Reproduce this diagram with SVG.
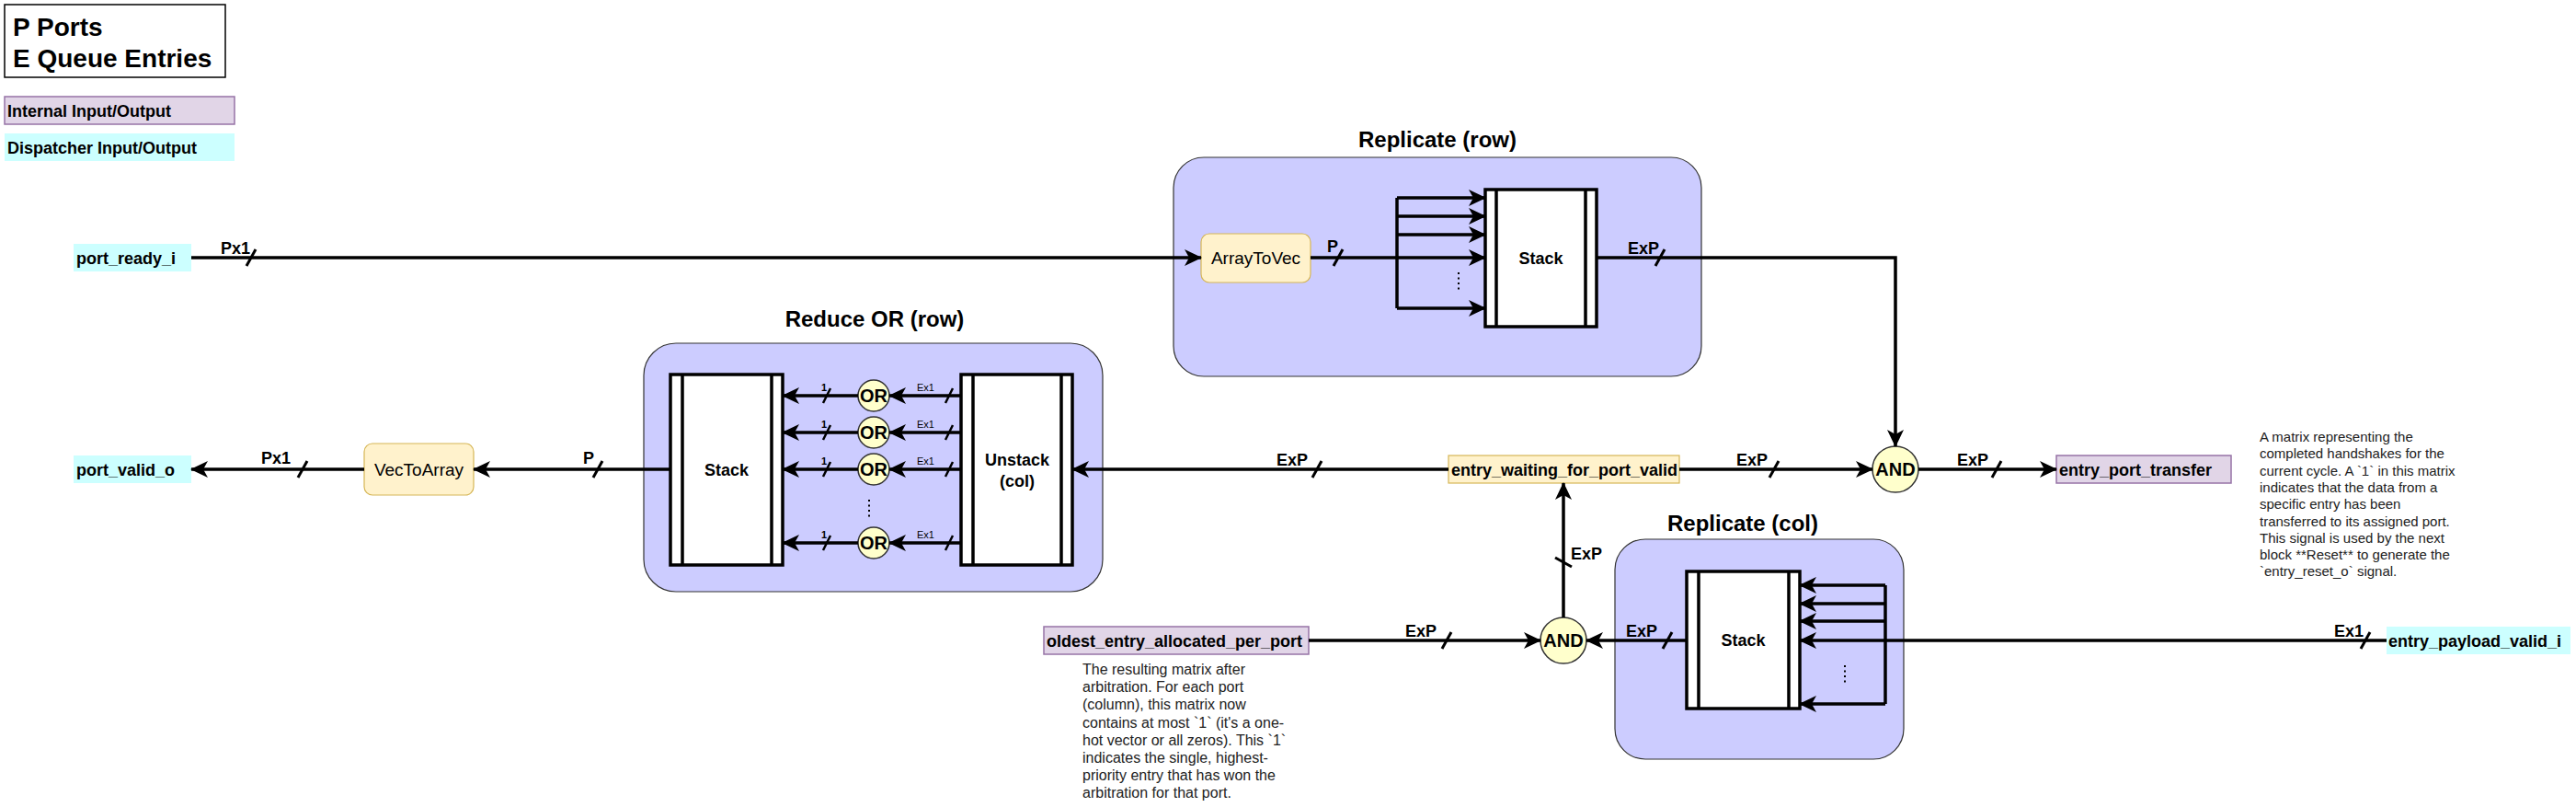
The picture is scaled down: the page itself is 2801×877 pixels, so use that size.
<svg xmlns="http://www.w3.org/2000/svg" width="2801" height="877" viewBox="0 0 2801 877">
<style>
text{font-family:"Liberation Sans",Arial,Helvetica,sans-serif;fill:#000}
.lb{font-size:18px;font-weight:bold}
.sm{font-size:11px}
.ttl{font-size:24px;font-weight:bold;text-anchor:middle}
.c{text-anchor:middle}
.note{font-size:15px;fill:#222}
.note16{font-size:16px;fill:#222}
.w{fill:none;stroke:#000;stroke-width:3.5}
.sl{fill:none;stroke:#000;stroke-width:3}
.sls{fill:none;stroke:#000;stroke-width:2.5}
.grp{fill:#ccccff;stroke:#333;stroke-width:1.2}
.stk{fill:#fff;stroke:#000;stroke-width:3.5}
.ylw{fill:#fff2cc;stroke:#d6b656;stroke-width:1.2}
.pur{fill:#e1d5e7;stroke:#9673a6;stroke-width:1.5}
.cyn{fill:#ccffff}
.gate{fill:#ffffcc;stroke:#333;stroke-width:1.5}
.dots{fill:none;stroke:#000;stroke-width:2;stroke-dasharray:2 3.5}
</style>
<defs>
<marker id="a" viewBox="0 0 20 20" refX="18" refY="10" markerWidth="20" markerHeight="20" markerUnits="userSpaceOnUse" orient="auto">
<path d="M0,1 L19,10 L0,19 L5,10 Z" fill="#000"/>
</marker>
</defs>

<g id="legend">
<rect x="5" y="5" width="240" height="79" fill="#fff" stroke="#000" stroke-width="1.5"/>
<text x="14" y="39" style="font-size:28px;font-weight:bold">P Ports</text>
<text x="14" y="73" style="font-size:28px;font-weight:bold">E Queue Entries</text>
<rect class="pur" x="5" y="105" width="250" height="30"/>
<text class="lb" x="8" y="127">Internal Input/Output</text>
<rect class="cyn" x="5" y="145" width="250" height="30"/>
<text class="lb" x="8" y="167">Dispatcher Input/Output</text>
</g>

<g id="port_ready_i">
<rect class="cyn" x="80" y="265" width="128" height="30"/>
<text class="lb" x="83" y="287">port_ready_i</text>
</g>
<g id="port_valid_o">
<rect class="cyn" x="80" y="495" width="128" height="30"/>
<text class="lb" x="83" y="517">port_valid_o</text>
</g>
<g id="VecToArray">
<rect class="ylw" x="396" y="482" width="119" height="56" rx="9"/>
<text class="c" x="455.5" y="517" style="font-size:19px">VecToArray</text>
</g>

<g id="replicate_row">
<text class="ttl" x="1563" y="160">Replicate (row)</text>
<rect class="grp" x="1276" y="171" width="574" height="238" rx="33"/>
<g id="ArrayToVec">
<rect class="ylw" x="1306" y="254" width="119" height="53" rx="9"/>
<text class="c" x="1365.5" y="287" style="font-size:19px">ArrayToVec</text>
</g>
<g id="stack_row">
<rect class="stk" x="1615" y="206" width="121" height="149"/>
<path class="stk" d="M1627,206 V355 M1724,206 V355"/>
<text class="lb c" x="1675.5" y="287">Stack</text>
</g>
<path class="dots" d="M1586,296 V316"/>
</g>

<g id="reduce_or">
<text class="ttl" x="951" y="355">Reduce OR (row)</text>
<rect class="grp" x="700" y="373" width="499" height="270" rx="35"/>
<g id="stack_reduce">
<rect class="stk" x="729" y="407" width="122" height="207"/>
<path class="stk" d="M742,407 V614 M839,407 V614"/>
<text class="lb c" x="790" y="517">Stack</text>
</g>
<g id="unstack">
<rect class="stk" x="1045" y="407" width="121" height="207"/>
<path class="stk" d="M1058,407 V614 M1154,407 V614"/>
<text class="lb c" x="1106" y="506">Unstack</text>
<text class="lb c" x="1106" y="529">(col)</text>
</g>
<g id="or1"><circle class="gate" cx="950" cy="430" r="17"/><text class="c" x="950" y="437" style="font-size:20px;font-weight:bold">OR</text></g>
<g id="or2"><circle class="gate" cx="950" cy="470" r="17"/><text class="c" x="950" y="477" style="font-size:20px;font-weight:bold">OR</text></g>
<g id="or3"><circle class="gate" cx="950" cy="510" r="17"/><text class="c" x="950" y="517" style="font-size:20px;font-weight:bold">OR</text></g>
<g id="or4"><circle class="gate" cx="950" cy="590" r="17"/><text class="c" x="950" y="597" style="font-size:20px;font-weight:bold">OR</text></g>
<path class="dots" d="M945,543 V563"/>
</g>

<g id="entry_waiting_for_port_valid">
<rect class="ylw" x="1575" y="495" width="251" height="30"/>
<text class="lb" x="1578" y="517">entry_waiting_for_port_valid</text>
</g>
<g id="and_top">
<ellipse class="gate" cx="2061" cy="510" rx="25" ry="25"/>
<text class="c" x="2061" y="517" style="font-size:20px;font-weight:bold">AND</text>
</g>
<g id="entry_port_transfer">
<rect class="pur" x="2236" y="495" width="190" height="30"/>
<text class="lb" x="2239" y="517">entry_port_transfer</text>
</g>
<g id="note_transfer">
<text class="note" x="2457" y="480">A matrix representing the</text>
<text class="note" x="2457" y="498.3">completed handshakes for the</text>
<text class="note" x="2457" y="516.6">current cycle. A `1` in this matrix</text>
<text class="note" x="2457" y="534.9">indicates that the data from a</text>
<text class="note" x="2457" y="553.2">specific entry has been</text>
<text class="note" x="2457" y="571.5">transferred to its assigned port.</text>
<text class="note" x="2457" y="589.8">This signal is used by the next</text>
<text class="note" x="2457" y="608.1">block **Reset** to generate the</text>
<text class="note" x="2457" y="626.4">`entry_reset_o` signal.</text>
</g>

<g id="oldest_entry_allocated_per_port">
<rect class="pur" x="1135" y="681" width="288" height="30"/>
<text class="lb" x="1138" y="703">oldest_entry_allocated_per_port</text>
</g>
<g id="note_oldest">
<text class="note16" x="1177" y="733">The resulting matrix after</text>
<text class="note16" x="1177" y="752.2">arbitration. For each port</text>
<text class="note16" x="1177" y="771.4">(column), this matrix now</text>
<text class="note16" x="1177" y="790.6">contains at most `1` (it's a one-</text>
<text class="note16" x="1177" y="809.8">hot vector or all zeros). This `1`</text>
<text class="note16" x="1177" y="829">indicates the single, highest-</text>
<text class="note16" x="1177" y="848.2">priority entry that has won the</text>
<text class="note16" x="1177" y="867.4">arbitration for that port.</text>
</g>
<g id="and_bottom">
<circle class="gate" cx="1700" cy="696" r="25"/>
<text class="c" x="1700" y="703" style="font-size:20px;font-weight:bold">AND</text>
</g>

<g id="replicate_col">
<text class="ttl" x="1895" y="577">Replicate (col)</text>
<rect class="grp" x="1756" y="586" width="314" height="239" rx="33"/>
<g id="stack_col">
<rect class="stk" x="1834" y="621" width="123" height="149"/>
<path class="stk" d="M1847,621 V770 M1945,621 V770"/>
<text class="lb c" x="1895.5" y="702">Stack</text>
</g>
<path class="dots" d="M2006,723 V743"/>
</g>

<g id="entry_payload_valid_i">
<rect class="cyn" x="2595" y="681" width="200" height="30"/>
<text class="lb" x="2597" y="703">entry_payload_valid_i</text>
</g>

<g id="connectors">
<!-- port_ready_i to ArrayToVec -->
<path class="w" d="M208,280 H1306" marker-end="url(#a)"/>
<path class="sl" d="M268,289 L278,271"/>
<text class="lb" x="240" y="276">Px1</text>
<!-- ArrayToVec to stack (replicate) -->
<path class="w" d="M1425,280 H1615" marker-end="url(#a)"/>
<path class="sl" d="M1450,289 L1460,271"/>
<text class="lb" x="1443" y="274">P</text>
<path class="w" d="M1519,215 V335"/>
<path class="w" d="M1519,215 H1615" marker-end="url(#a)"/>
<path class="w" d="M1519,235 H1615" marker-end="url(#a)"/>
<path class="w" d="M1519,255 H1615" marker-end="url(#a)"/>
<path class="w" d="M1519,335 H1615" marker-end="url(#a)"/>
<!-- stack row to AND -->
<path class="w" d="M1736,280 H2061 V485" marker-end="url(#a)"/>
<path class="sl" d="M1800,289 L1810,271"/>
<text class="lb" x="1770" y="276">ExP</text>
<!-- entry_waiting to unstack -->
<path class="w" d="M1575,510 H1166" marker-end="url(#a)"/>
<path class="sl" d="M1427,519 L1437,501"/>
<text class="lb" x="1388" y="506">ExP</text>
<!-- entry_waiting to AND -->
<path class="w" d="M1826,510 H2036" marker-end="url(#a)"/>
<path class="sl" d="M1924,519 L1934,501"/>
<text class="lb" x="1888" y="506">ExP</text>
<!-- AND to entry_port_transfer -->
<path class="w" d="M2086,510 H2236" marker-end="url(#a)"/>
<path class="sl" d="M2166,519 L2176,501"/>
<text class="lb" x="2128" y="506">ExP</text>
<!-- reduce stack to VecToArray -->
<path class="w" d="M729,510 H515" marker-end="url(#a)"/>
<path class="sl" d="M645,519 L655,501"/>
<text class="lb" x="634" y="504">P</text>
<!-- VecToArray to port_valid_o -->
<path class="w" d="M396,510 H208" marker-end="url(#a)"/>
<path class="sl" d="M324,519 L334,501"/>
<text class="lb" x="284" y="504">Px1</text>
<!-- reduce rows -->
<path class="w" d="M1045,430 H967" marker-end="url(#a)"/>
<path class="w" d="M933,430 H851" marker-end="url(#a)"/>
<path class="w" d="M1045,470 H967" marker-end="url(#a)"/>
<path class="w" d="M933,470 H851" marker-end="url(#a)"/>
<path class="w" d="M1045,510 H967" marker-end="url(#a)"/>
<path class="w" d="M933,510 H851" marker-end="url(#a)"/>
<path class="w" d="M1045,590 H967" marker-end="url(#a)"/>
<path class="w" d="M933,590 H851" marker-end="url(#a)"/>
<path class="sls" d="M895,438 L903,422 M895,478 L903,462 M895,518 L903,502 M895,598 L903,582"/>
<path class="sls" d="M1028,438 L1036,422 M1028,478 L1036,462 M1028,518 L1036,502 M1028,598 L1036,582"/>
<text class="sm" style="font-weight:bold" x="893" y="425">1</text>
<text class="sm" style="font-weight:bold" x="893" y="465">1</text>
<text class="sm" style="font-weight:bold" x="893" y="505">1</text>
<text class="sm" style="font-weight:bold" x="893" y="585">1</text>
<text class="sm" x="997" y="425">Ex1</text>
<text class="sm" x="997" y="465">Ex1</text>
<text class="sm" x="997" y="505">Ex1</text>
<text class="sm" x="997" y="585">Ex1</text>
<!-- oldest to AND bottom -->
<path class="w" d="M1423,696 H1675" marker-end="url(#a)"/>
<path class="sl" d="M1568,705 L1578,687"/>
<text class="lb" x="1528" y="692">ExP</text>
<!-- stack col to AND bottom -->
<path class="w" d="M1834,696 H1725" marker-end="url(#a)"/>
<path class="sl" d="M1808,705 L1818,687"/>
<text class="lb" x="1768" y="692">ExP</text>
<!-- AND bottom to entry_waiting -->
<path class="w" d="M1700,671 V525" marker-end="url(#a)"/>
<path class="sl" d="M1691,606 L1709,616"/>
<text class="lb" x="1708" y="608">ExP</text>
<!-- entry_payload_valid_i to stack col -->
<path class="w" d="M2595,696 H1957" marker-end="url(#a)"/>
<path class="sl" d="M2567,705 L2577,687"/>
<text class="lb" x="2538" y="692">Ex1</text>
<path class="w" d="M2050,636 V765"/>
<path class="w" d="M2050,636 H1957" marker-end="url(#a)"/>
<path class="w" d="M2050,656 H1957" marker-end="url(#a)"/>
<path class="w" d="M2050,675 H1957" marker-end="url(#a)"/>
<path class="w" d="M2050,765 H1957" marker-end="url(#a)"/>
</g>
</svg>
